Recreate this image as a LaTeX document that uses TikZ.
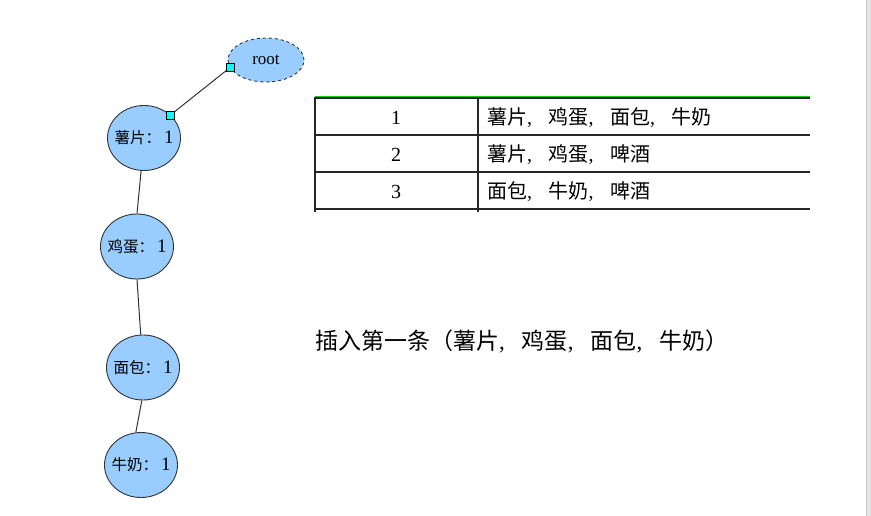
\documentclass[tikz,border=0pt]{standalone}
\usepackage{fontspec}
\setmainfont{Liberation Serif}
\newfontfamily\cjk{Noto Sans CJK SC}
\usetikzlibrary{shapes.geometric}
\definecolor{nodeblue}{HTML}{99CCFF}
\definecolor{edgegray}{HTML}{333333}
\definecolor{topgreen}{HTML}{10D010}
\definecolor{portcyan}{HTML}{00FFFF}
\newcommand\widesp[1]{\spaceskip=#1\relax}
\begin{document}
\begin{tikzpicture}[x=1pt,y=-1pt,
  treenode/.style={ellipse,draw=edgegray,fill=nodeblue,line width=0.9pt,
    minimum width=73pt,minimum height=65pt,inner xsep=-7pt,inner ysep=0pt,
    font=\fontsize{19pt}{19pt}\selectfont},
  rootnode/.style={treenode,dashed,minimum width=76pt,minimum height=44pt,inner xsep=0pt,
    font=\fontsize{17pt}{17pt}\selectfont},
  port/.style={rectangle,draw=black,fill=portcyan,minimum size=8pt,inner sep=0pt,line width=0.6pt},
  edge/.style={draw=edgegray,line width=1pt},
  gridline/.style={draw=black!85,line width=1.3pt},
  celltext/.style={inner sep=0pt,text height=15pt,text depth=4pt,
    font=\fontsize{20pt}{24pt}\selectfont},
  captext/.style={inner sep=0pt,text height=16pt,text depth=5pt,
    font=\fontsize{23pt}{26pt}\selectfont}]
\useasboundingbox (0,0) rectangle (871,516);
\fill[white] (0,0) rectangle (871,516);
% right scroll strip
\fill[black!10] (866.5,0) rectangle (871,516);
\draw[black!22,line width=0.8pt] (866.8,0) -- (866.8,516);

% tree nodes
\node[rootnode] (root) at (266,60) {root};
\node[treenode] (n1) at (144,138) {{\fontsize{15.5pt}{15pt}\cjk 薯片：}\hspace{3pt}1};
\node[treenode] (n2) at (137,246.5) {{\fontsize{15.5pt}{15pt}\cjk 鸡蛋：}\hspace{3pt}1};
\node[treenode] (n3) at (143,367.5) {{\fontsize{15.5pt}{15pt}\cjk 面包：}\hspace{3pt}1};
\node[treenode] (n4) at (141,465) {{\fontsize{15.5pt}{15pt}\cjk 牛奶：}\hspace{3pt}1};

% connectors
\coordinate (ra) at (root.192);
\coordinate (rb) at (n1.41);
\draw[edge] (ra) -- (rb);
\node[port] (pa) at (ra) {};
\node[port] (pb) at (rb) {};
\draw[edge] (n1.265) -- (n2.90);
\draw[edge] (n2.270) -- (n3.94);
\draw[edge] (n3.268) -- (n4.99);

% table
\draw[topgreen,line width=1.4pt] (315,96.4) -- (810,96.4);
\draw[gridline] (315,98) -- (810,98);
\draw[gridline] (315,135) -- (810,135);
\draw[gridline] (315,172) -- (810,172);
\draw[gridline] (315,209) -- (810,209);
\draw[gridline] (315,97) -- (315,212);
\draw[gridline] (478,97) -- (478,212);

\node[celltext] (a1) at (396,119) {1};
\node[celltext] (a2) at (396,156) {2};
\node[celltext] (a3) at (396,193) {3};
\node[celltext,anchor=west] (b1) at (487,119) {\widesp{16.5pt}{\cjk 薯片}, {\cjk 鸡蛋}, {\cjk 面包}, {\cjk 牛奶}};
\node[celltext,anchor=west] (b2) at (487,156) {\widesp{16.5pt}{\cjk 薯片}, {\cjk 鸡蛋}, {\cjk 啤酒}};
\node[celltext,anchor=west] (b3) at (487,193) {\widesp{16.5pt}{\cjk 面包}, {\cjk 牛奶}, {\cjk 啤酒}};

% caption
\node[captext,anchor=west] (cap) at (315,344) {\widesp{17pt}{\cjk 插入第一条（薯片}, {\cjk 鸡蛋}, {\cjk 面包}, {\cjk 牛奶）}};
\end{tikzpicture}
\end{document}
